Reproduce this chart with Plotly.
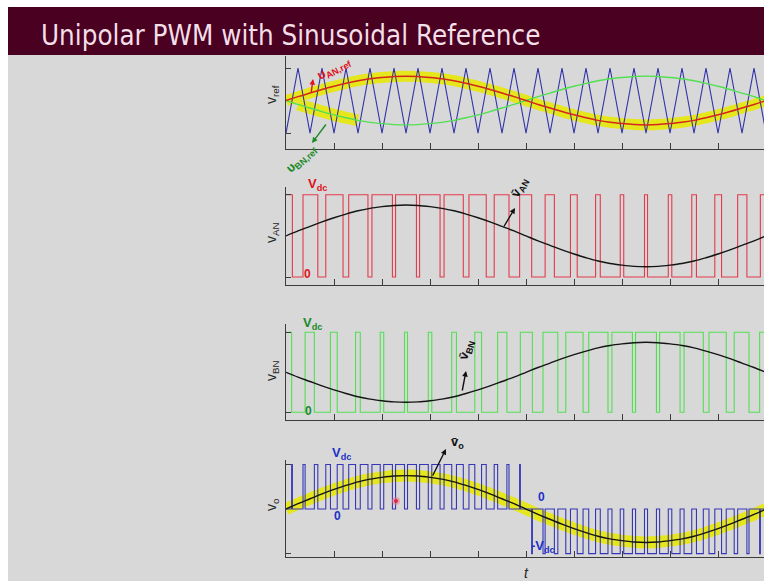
import plotly.graph_objects as go

W, H = 764, 581

# ---------------- data ----------------
# carrier (triangle) vertices: 20 carrier periods per reference period
t_vertices = [0.000, 0.025, 0.050, 0.075, 0.100, 0.125, 0.150, 0.175, 0.200, 0.225,
              0.250, 0.275, 0.300, 0.325, 0.350, 0.375, 0.400, 0.425, 0.450, 0.475,
              0.500, 0.525, 0.550, 0.575, 0.600, 0.625, 0.650, 0.675, 0.700, 0.725,
              0.750, 0.775, 0.800, 0.825, 0.850, 0.875, 0.900, 0.925, 0.950, 0.975,
              1.000]
carrier = [-1, 1, -1, 1, -1, 1, -1, 1, -1, 1,
           -1, 1, -1, 1, -1, 1, -1, 1, -1, 1,
           -1, 1, -1, 1, -1, 1, -1, 1, -1, 1,
           -1, 1, -1, 1, -1, 1, -1, 1, -1, 1,
           -1]
# reference v_AN,ref sampled at the carrier vertices (peak ~0.75)
ref_a = [0.00, 0.12, 0.23, 0.34, 0.44, 0.53, 0.61, 0.67, 0.71, 0.74,
         0.75, 0.74, 0.71, 0.67, 0.61, 0.53, 0.44, 0.34, 0.23, 0.12,
         0.00, -0.12, -0.23, -0.34, -0.44, -0.53, -0.61, -0.67, -0.71, -0.74,
         -0.75, -0.74, -0.71, -0.67, -0.61, -0.53, -0.44, -0.34, -0.23, -0.12,
         0.00]
tick_times = [0.0, 0.1, 0.2, 0.3, 0.4, 0.5, 0.6, 0.7, 0.8, 0.9]
x_end = 0.9958          # visible part of the period (right edge cut by the slide)
green_hl_idx = (1, 6)   # hand-drawn highlight along v_BN,ref (vertex index range)

ref_b = [-v for v in ref_a]


def pwm(ref):
    """Switch state of a leg: high while reference > carrier."""
    times, levels = [t_vertices[0]], [1]
    state = 1
    for k in range(len(t_vertices) - 1):
        d0 = ref[k] - carrier[k]
        d1 = ref[k + 1] - carrier[k + 1]
        tc = t_vertices[k] + d0 / (d0 - d1) * (t_vertices[k + 1] - t_vertices[k])
        state = 1 - state
        times.append(tc)
        levels.append(state)
    times.append(t_vertices[-1])
    levels.append(state)
    return times, levels


def value_at(times, levels, t):
    v = levels[0]
    for ti, li in zip(times, levels):
        if ti <= t:
            v = li
        else:
            break
    return v


ta, la = pwm(ref_a)
tb, lb = pwm(ref_b)
to = sorted(set(ta) | set(tb))
lo = [value_at(ta, la, t) - value_at(tb, lb, t) for t in to]

avg_an = [0.5 + r / 2 for r in ref_a]
avg_bn = [0.5 + r / 2 for r in ref_b]
avg_o = ref_a

# ---------------- styling ----------------
BG = "#d8d8d8"
AX = "#3c3c3c"
YEL = "rgb(230,230,28)"


def fx(x):
    return x / W


def fy(y):
    return 1 - y / H


fig = go.Figure()

# panel 1
fig.add_trace(go.Scatter(x=t_vertices, y=ref_a, mode="lines", line=dict(color=YEL, width=11, shape="spline"),
                         xaxis="x", yaxis="y", hoverinfo="skip"))
i0, i1 = green_hl_idx
fig.add_trace(go.Scatter(x=t_vertices[i0:i1 + 1], y=ref_b[i0:i1 + 1], mode="lines",
                         line=dict(color=YEL, width=12, shape="spline"), xaxis="x", yaxis="y", hoverinfo="skip"))
fig.add_trace(go.Scatter(x=t_vertices, y=carrier, mode="lines", line=dict(color="#3434aa", width=1.1),
                         xaxis="x", yaxis="y"))
fig.add_trace(go.Scatter(x=t_vertices, y=ref_b, mode="lines", line=dict(color="#52e052", width=1.4, shape="spline"),
                         xaxis="x", yaxis="y"))
fig.add_trace(go.Scatter(x=t_vertices, y=ref_a, mode="lines", line=dict(color="#d4261a", width=1.5, shape="spline"),
                         xaxis="x", yaxis="y"))
# panel 2
fig.add_trace(go.Scatter(x=ta, y=la, mode="lines", line=dict(color="#e43a4c", width=1.1, shape="hv"),
                         xaxis="x2", yaxis="y2"))
fig.add_trace(go.Scatter(x=t_vertices, y=avg_an, mode="lines", line=dict(color="#151515", width=1.4, shape="spline"),
                         xaxis="x2", yaxis="y2"))
# panel 3
fig.add_trace(go.Scatter(x=tb, y=lb, mode="lines", line=dict(color="#52e052", width=1.1, shape="hv"),
                         xaxis="x3", yaxis="y3"))
fig.add_trace(go.Scatter(x=t_vertices, y=avg_bn, mode="lines", line=dict(color="#151515", width=1.4, shape="spline"),
                         xaxis="x3", yaxis="y3"))
# panel 4
fig.add_trace(go.Scatter(x=t_vertices, y=avg_o, mode="lines", line=dict(color=YEL, width=12, shape="spline"),
                         xaxis="x4", yaxis="y4", hoverinfo="skip"))
fig.add_trace(go.Scatter(x=to, y=lo, mode="lines", line=dict(color="#3636b8", width=1.1, shape="hv"),
                         xaxis="x4", yaxis="y4"))
fig.add_trace(go.Scatter(x=t_vertices, y=avg_o, mode="lines", line=dict(color="#151515", width=1.4, shape="spline"),
                         xaxis="x4", yaxis="y4"))

# axes: (top px, bottom px, y-range, y tick values) in window pixels
panels = [
    (56, 149.3, [-1.5, 1.37], [-1, 1]),
    (186.5, 285.3, [-0.1, 1.1], [0, 1]),
    (324.3, 420.3, [-0.1, 1.1], [0, 1]),
    (460.0, 556.7, [-1.07, 1.1], [-1, 1]),
]
layout_axes = {}
for i, (top, bot, yr, yt) in enumerate(panels, start=1):
    sx = "" if i == 1 else str(i)
    layout_axes["xaxis" + sx] = dict(
        domain=[fx(286), 1.0], range=[0, x_end], showline=True, linecolor=AX, linewidth=1,
        ticks="inside", ticklen=6, tickcolor=AX, tickvals=tick_times, showticklabels=False,
        showgrid=False, zeroline=False, anchor="y" + sx, fixedrange=True)
    layout_axes["yaxis" + sx] = dict(
        domain=[fy(bot), fy(top)], range=yr, showline=True, linecolor=AX, linewidth=1,
        ticks="inside", ticklen=5, tickcolor=AX, tickvals=yt, showticklabels=False,
        showgrid=False, zeroline=False, anchor="x" + sx, fixedrange=True)

shapes = [
    # white page border round the slide (top and left)
    dict(type="rect", xref="paper", yref="paper", x0=0, x1=1, y0=fy(7), y1=1,
         fillcolor="white", line=dict(width=0), layer="below"),
    dict(type="rect", xref="paper", yref="paper", x0=0, x1=fx(8), y0=0, y1=1,
         fillcolor="white", line=dict(width=0), layer="below"),
    dict(type="rect", xref="paper", yref="paper", x0=fx(8), x1=1, y0=fy(55), y1=fy(7),
         fillcolor="#4a0021", line=dict(width=0), layer="above"),
    dict(type="circle", xref="paper", yref="paper", x0=fx(392), x1=fx(400), y0=fy(505), y1=fy(497),
         fillcolor="rgba(240,120,140,0.55)", line=dict(width=0), layer="above"),
    dict(type="circle", xref="paper", yref="paper", x0=fx(394), x1=fx(398), y0=fy(503), y1=fy(499),
         fillcolor="rgba(220,30,60,0.9)", line=dict(width=0), layer="above"),
]

HAND = "Liberation Sans, Arial"
ann = []


def text(x, y, s, color, size=12, angle=0):
    ann.append(dict(xref="paper", yref="paper", x=fx(x), y=fy(y), text="<b>" + s + "</b>", showarrow=False,
                    textangle=angle, font=dict(family=HAND, size=size, color=color),
                    xanchor="center", yanchor="middle"))


def arrow(x_tail, y_tail, x_head, y_head, color):
    ann.append(dict(xref="paper", yref="paper", x=fx(x_head), y=fy(y_head), text="",
                    showarrow=True, ax=x_tail - x_head, ay=y_tail - y_head, axref="pixel", ayref="pixel",
                    arrowhead=2, arrowsize=0.8, arrowwidth=1.4, arrowcolor=color))


# title
ann.append(dict(xref="paper", yref="paper", x=fx(39), y=fy(35), text="Unipolar PWM with Sinusoidal Reference",
                showarrow=False, xanchor="left", yanchor="middle",
                font=dict(family="Liberation Sans Narrow, DejaVu Sans Condensed, Roboto", size=27.5, color="#f3dfe8")))

# axis labels
lab_font = dict(family="Liberation Sans, Arial", size=14, color="#262626")
for y, s in [(95, "v<sub>ref</sub>"), (233, "v<sub>AN</sub>"), (371, "v<sub>BN</sub>"), (505, "v<sub>o</sub>")]:
    ann.append(dict(xref="paper", yref="paper", x=fx(272), y=fy(y), text=s, showarrow=False,
                    textangle=-90, font=lab_font, xanchor="center", yanchor="middle"))
ann.append(dict(xref="paper", yref="paper", x=fx(526), y=fy(573), text="<i>t</i>", showarrow=False,
                font=lab_font, xanchor="center", yanchor="middle"))

RED, GRN, BLK, BLU = "#e0121c", "#1a8a28", "#111111", "#1f30c8"
text(334, 68, "υ<sub>AN,ref</sub>", RED, 13, -28)
arrow(311, 94, 313, 79, RED)
text(302, 159, "υ<sub>BN,ref</sub>", GRN, 13, -42)
arrow(327, 123, 312, 143, GRN)
text(317, 185, "V<sub>dc</sub>", RED, 13)
text(307, 274, "0", RED, 12)
text(520, 188, "v̄<sub>AN</sub>", BLK, 13, -62)
arrow(503, 228, 515, 208, BLK)
text(312, 323, "V<sub>dc</sub>", GRN, 13)
text(308, 411, "0", GRN, 12)
text(466, 350, "v̄<sub>BN</sub>", BLK, 13, -72)
arrow(462, 392, 466, 371, BLK)
text(341, 453, "V<sub>dc</sub>", BLU, 13)
text(337, 516, "0", BLU, 12)
text(457, 443, "v̄<sub>o</sub>", BLK, 13)
arrow(432, 477, 446, 449, BLK)
text(541, 497, "0", BLU, 12)
text(543, 546, "-V<sub>dc</sub>", BLU, 13)

fig.update_layout(
    width=W, height=H, margin=dict(l=0, r=0, t=0, b=0),
    paper_bgcolor=BG, plot_bgcolor="rgba(0,0,0,0)",
    showlegend=False, shapes=shapes, annotations=ann, **layout_axes)

fig.write_html("out.html", config={"displayModeBar": False},
               post_script="document.body.style.margin='0';document.body.style.overflow='hidden';")
